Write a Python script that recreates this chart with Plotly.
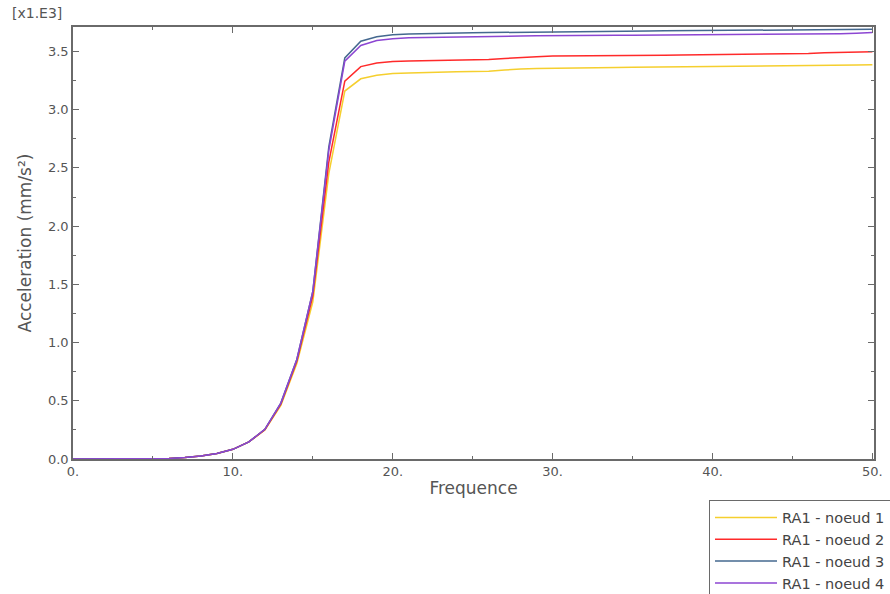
import plotly.graph_objects as go

freq = list(range(0, 51))

# values in units of 1e3 mm/s^2
low = [0, 0, 0, 0, 0, 0, 0.005, 0.012, 0.025, 0.048, 0.083, 0.147]
noeud1 = low + [0.25, 0.46, 0.82, 1.35, 2.45, 3.16, 3.265, 3.295, 3.31, 3.315, 3.32, 3.322, 3.325, 3.327, 3.33, 3.34, 3.35, 3.353, 3.356, 3.358, 3.36, 3.362, 3.363, 3.364, 3.365, 3.366, 3.367, 3.368, 3.369, 3.37, 3.371, 3.372, 3.374, 3.376, 3.378, 3.38, 3.382, 3.384, 3.386]
noeud2 = low + [0.252, 0.47, 0.84, 1.40, 2.55, 3.245, 3.37, 3.40, 3.413, 3.418, 3.42, 3.421, 3.422, 3.424, 3.43, 3.44, 3.45, 3.455, 3.46, 3.462, 3.463, 3.464, 3.465, 3.466, 3.467, 3.468, 3.469, 3.47, 3.471, 3.472, 3.473, 3.474, 3.476, 3.478, 3.482, 3.488, 3.49, 3.492, 3.497]
noeud3 = low + [0.255, 0.48, 0.855, 1.44, 2.68, 3.445, 3.588, 3.626, 3.643, 3.65, 3.654, 3.656, 3.658, 3.66, 3.662, 3.664, 3.666, 3.668, 3.669, 3.67, 3.672, 3.673, 3.674, 3.675, 3.676, 3.677, 3.678, 3.679, 3.68, 3.681, 3.682, 3.683, 3.684, 3.685, 3.686, 3.687, 3.688, 3.689, 3.69]
noeud4 = low + [0.255, 0.48, 0.855, 1.44, 2.65, 3.416, 3.551, 3.594, 3.61, 3.617, 3.62, 3.622, 3.624, 3.626, 3.628, 3.63, 3.632, 3.634, 3.636, 3.637, 3.638, 3.638, 3.639, 3.639, 3.64, 3.64, 3.641, 3.641, 3.642, 3.642, 3.643, 3.643, 3.644, 3.645, 3.647, 3.649, 3.652, 3.656, 3.662]

series_names = ["RA1 - noeud 1", "RA1 - noeud 2", "RA1 - noeud 3", "RA1 - noeud 4"]
series_values = [noeud1, noeud2, noeud3, noeud4]
colors = ["#F5CF2E", "#FF2A2A", "#44688F", "#8C46D2"]

x_tickvals = [0, 10, 20, 30, 40, 50]
x_ticktext = ["0.", "10.", "20.", "30.", "40.", "50."]
y_tickvals = [0, 0.5, 1.0, 1.5, 2.0, 2.5, 3.0, 3.5]
y_ticktext = ["0.0", "0.5", "1.0", "1.5", "2.0", "2.5", "3.0", "3.5"]

fig = go.Figure()
for name, vals, col in zip(series_names, series_values, colors):
    fig.add_trace(go.Scatter(x=freq, y=vals, mode="lines", name=name,
                             line=dict(color=col, width=1.5)))

axis_common = dict(
    showline=True, linecolor="#6a6a6a", linewidth=1.5, mirror="allticks",
    ticks="inside", ticklen=6, tickwidth=1, tickcolor="#6a6a6a",
    showgrid=False, zeroline=False, automargin=False,
    tickfont=dict(family="DejaVu Sans", size=13, color="#555555"),
)

fig.update_xaxes(
    range=[0, 50.1], tickvals=x_tickvals, ticktext=x_ticktext,
    minor=dict(ticks="inside", ticklen=3, dtick=5, tick0=0, tickcolor="#6a6a6a", showgrid=False),
    title=dict(text="Frequence", font=dict(family="DejaVu Sans", size=17, color="#555555"), standoff=4),
    **axis_common,
)
fig.update_yaxes(
    range=[0, 3.71], tickvals=y_tickvals, ticktext=y_ticktext,
    minor=dict(ticks="inside", ticklen=3, dtick=0.25, tick0=0, tickcolor="#6a6a6a", showgrid=False),
    title=dict(text="Acceleration (mm/s²)", font=dict(family="DejaVu Sans", size=17, color="#555555"), standoff=12),
    **axis_common,
)

fig.add_annotation(text="[x1.E3]", xref="paper", yref="paper", x=-0.079, y=1.0,
                   xanchor="left", yanchor="bottom", yshift=4, showarrow=False,
                   font=dict(family="DejaVu Sans", size=14, color="#555555"))

fig.update_layout(
    width=890, height=594,
    margin=dict(l=73, r=16, t=27, b=135, autoexpand=False),
    paper_bgcolor="white", plot_bgcolor="white",
    legend=dict(x=0.794, y=-0.096, xanchor="left", yanchor="top",
                bordercolor="#6a6a6a", borderwidth=1, bgcolor="white",
                font=dict(family="DejaVu Sans", size=14.5, color="#444444"),
                tracegroupgap=0, itemwidth=62),
    showlegend=True,
)

fig.write_html("out.html", config={"displayModeBar": False},
               post_script="document.body.style.margin='0';document.body.style.overflow='hidden';")
